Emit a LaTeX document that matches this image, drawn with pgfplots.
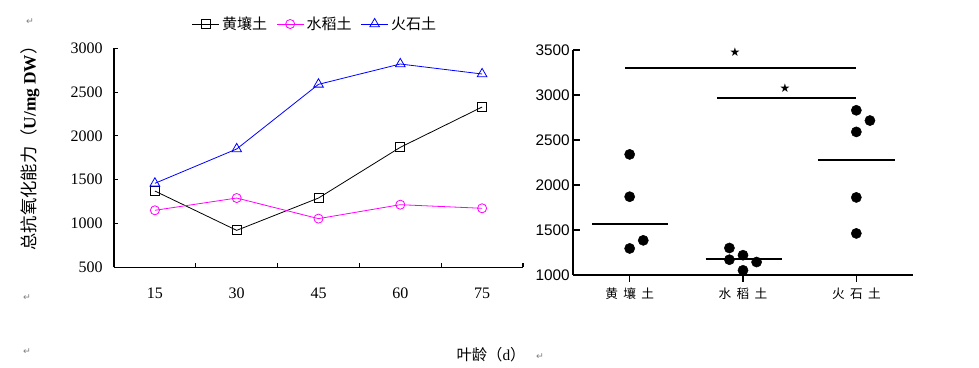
\documentclass[border=0pt]{standalone}
\usepackage{fontspec}
\setmainfont{Liberation Serif}
\newfontfamily\cjk{Noto Sans CJK SC}
\newfontfamily\arial{Liberation Sans}
\newfontfamily\dejavu{DejaVu Sans}
\usepackage{pgfplots}
\pgfplotsset{compat=1.18}
\begin{document}
\begin{tikzpicture}
\path[use as bounding box] (0,0) rectangle (734.25pt,276pt);
% ---------------- left chart ----------------
\begin{axis}[
  at={(85.5pt,75.5pt)}, anchor=south west, scale only axis,
  width=306.75pt, height=164.25pt,
  xmin=-0.5, xmax=4.5, ymin=500, ymax=3000,
  axis lines*=left, axis line style={line width=1pt},
  xtick={0,1,2,3,4}, xticklabels={15,30,45,60,75},
  major x tick style=transparent,
  minor xtick={0.5,1.5,2.5,3.5,4.5},
  ytick={500,1000,...,3000},
  tick align=inside, major tick length=3pt, minor tick length=3pt,
  tick style={line width=0.8pt, black},
  scaled y ticks=false,
  /pgf/number format/1000 sep={},
  /pgf/number format/assume math mode=true,
  ticklabel style={font=\fontsize{12}{14}\selectfont},
  xticklabel style={yshift=-12pt},
  yticklabel style={xshift=-5pt},
  legend columns=3,
  legend style={at={(0.19,1.111)}, anchor=west, draw=none, fill=none, inner sep=0pt,
    font=\cjk\fontsize{11.25}{13}\selectfont,
    /tikz/every even column/.append style={column sep=5pt}},
  legend image code/.code={\draw[mark repeat=2,mark phase=2] plot coordinates {(0pt,0pt) (10pt,0pt) (20pt,0pt)};},
]
\addplot[black, line width=0.6pt, mark=square, mark size=3.4pt, mark options={fill=white, solid}]
  coordinates {(0,1371) (1,922) (2,1291) (3,1870) (4,2330)};
\addlegendentry{黄壤土}
\addplot[color={rgb,255:red,255;green,0;blue,255}, line width=0.6pt, mark=o, mark size=3.4pt, mark options={fill=white, solid}]
  coordinates {(0,1151) (1,1291) (2,1056) (3,1215) (4,1174)};
\addlegendentry{水稻土}
\addplot[color={rgb,255:red,0;green,0;blue,255}, line width=0.6pt, mark=triangle, mark size=4.2pt, mark options={fill=white, solid}]
  coordinates {(0,1459) (1,1851) (2,2589) (3,2821) (4,2707)};
\addlegendentry{火石土}
\end{axis}
% ---------------- right chart ----------------
\begin{axis}[
  at={(429.75pt,69.75pt)}, anchor=south west, scale only axis,
  width=255pt, height=168.75pt,
  xmin=-0.5, xmax=2.5, ymin=1000, ymax=3500,
  axis lines*=left, axis line style={line width=1pt},
  xtick={0,1,2}, xticklabels={{\cjk 黄\hspace{4pt}壤\hspace{4pt}土},{\cjk 水\hspace{4pt}稻\hspace{4pt}土},{\cjk 火\hspace{4pt}石\hspace{4pt}土}},
  ytick={1000,1500,...,3500},
  tick align=inside, major tick length=5pt,
  tick style={line width=0.8pt, black},
  x tick style={yshift=-5pt},
  scaled y ticks=false,
  /pgf/number format/1000 sep={},
  /pgf/number format/assume math mode=true,
  yticklabel style={font=\arial\fontsize{11.5}{13}\selectfont, xshift=1pt},
  xticklabel style={font=\cjk\fontsize{9.5}{11}\selectfont, yshift=-6pt},
  clip=false,
]
\addplot[only marks, mark=*, mark size=3.8pt, black]
  coordinates {(0,2340) (0,1870) (0,1295) (0.12,1385)};
\addplot[only marks, mark=*, mark size=3.8pt, black]
  coordinates {(0.88,1300) (0.88,1170) (1,1220) (1,1052) (1.12,1144)};
\addplot[only marks, mark=*, mark size=3.8pt, black]
  coordinates {(2,2830) (2,2590) (2,1862) (2,1462) (2.12,2716)};
\addplot[black, line width=1.5pt] coordinates {(-0.33,1562) (0.34,1562)};
\addplot[black, line width=1.5pt] coordinates {(0.67,1177) (1.34,1177)};
\addplot[black, line width=1.5pt] coordinates {(1.66,2283) (2.34,2283)};
\addplot[black, line width=1.5pt] coordinates {(-0.04,3304) (2,3304)};
\addplot[black, line width=1.5pt] coordinates {(0.77,2971) (2,2971)};
\node[inner sep=0pt] at (axis cs:0.93,3475) {\dejavu\fontsize{9}{10}\selectfont ★};
\node[inner sep=0pt] at (axis cs:1.37,3075) {\dejavu\fontsize{9}{10}\selectfont ★};
\end{axis}
% ---------------- labels ----------------
\node[rotate=90, inner sep=0pt] at (22.5pt,168pt)
  {\cjk\fontsize{13}{15}\selectfont 总抗氧化能力（\textbf{\rmfamily U/mg DW}）};
\node[inner sep=0pt] at (368.25pt,9.75pt) {\cjk\fontsize{11.5}{13}\selectfont 叶龄（\rmfamily d\cjk）};
\node[inner sep=0pt, gray] at (22.5pt,259.5pt) {\dejavu\fontsize{7}{8}\selectfont ↵};
\node[inner sep=0pt, gray] at (20.25pt,52.5pt) {\dejavu\fontsize{7}{8}\selectfont ↵};
\node[inner sep=0pt, gray] at (20.25pt,12pt) {\dejavu\fontsize{7}{8}\selectfont ↵};
\node[inner sep=0pt, gray] at (405pt,8.5pt) {\dejavu\fontsize{7}{8}\selectfont ↵};
\end{tikzpicture}
\end{document}
